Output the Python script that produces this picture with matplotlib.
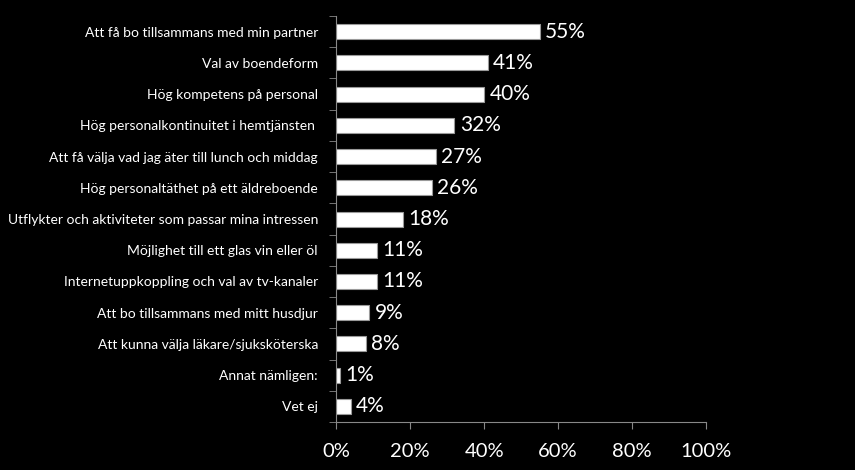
import numpy as np
import matplotlib
matplotlib.use("Agg")
import matplotlib.pyplot as plt

categories = [
    "Att få bo tillsammans med min partner",
    "Val av boendeform",
    "Hög kompetens på personal",
    "Hög personalkontinuitet i hemtjänsten ",
    "Att få välja vad jag äter till lunch och middag",
    "Hög personaltäthet på ett äldreboende",
    "Utflykter och aktiviteter som passar mina intressen",
    "Möjlighet till ett glas vin eller öl",
    "Internetuppkoppling och val av tv-kanaler",
    "Att bo tillsammans med mitt husdjur",
    "Att kunna välja läkare/sjuksköterska",
    "Annat nämligen:",
    "Vet ej",
]
values = [55, 41, 40, 32, 27, 26, 18, 11, 11, 9, 8, 1, 4]
xticks = [0, 20, 40, 60, 80, 100]

plt.rcParams["font.family"] = ["Lato", "DejaVu Sans"]

fig = plt.figure(figsize=(8.55, 4.70), dpi=100, facecolor="black")
ax = fig.add_axes([0.393, 0.102, 0.433, 0.864], facecolor="black")

y = np.arange(len(categories))
ax.barh(y, values, height=0.48, color="white", edgecolor="#9a9a9a", lw=0.8)
for yi, v in zip(y, values):
    ax.text(v + 1.4, yi, f"{v}%", va="center", ha="left",
            color="white", fontsize=15)

ax.set_xlim(0, 100)
ax.set_ylim(len(categories) - 0.5, -0.5)
ax.set_yticks(y)
ax.set_yticklabels(categories, color="white", fontsize=10)
ax.tick_params(axis="y", which="major", length=0, pad=13)
ax.set_yticks(np.arange(len(categories) + 1) - 0.5, minor=True)
ax.tick_params(axis="y", which="minor", length=5, color="#888888")
ax.set_xticks(xticks)
ax.set_xticklabels([f"{t}%" for t in xticks], color="white", fontsize=14.5)
ax.tick_params(axis="x", length=5, color="#888888", pad=10)

for s in ["top", "right"]:
    ax.spines[s].set_visible(False)
for s in ["left", "bottom"]:
    ax.spines[s].set_color("#888888")

fig.savefig("out.png", dpi=100, facecolor="black")
